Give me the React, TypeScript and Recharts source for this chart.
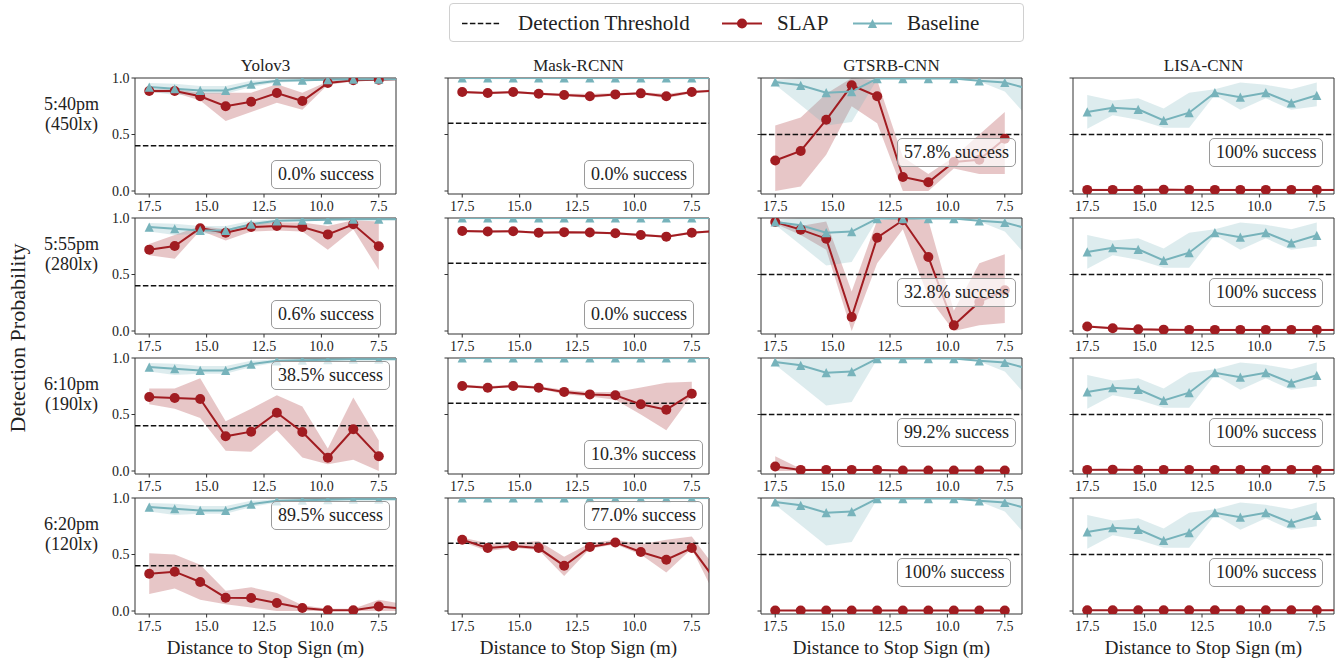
import React from "react";
import {
  Area,
  ComposedChart,
  Line,
  ReferenceArea,
  ReferenceLine,
  XAxis,
  YAxis,
} from "recharts";

// distance (m) of each measurement; the last one sits just past the x-limit
const distances = [17.5, 16.39, 15.28, 14.17, 13.06, 11.94, 10.83, 9.72, 8.61, 7.5, 6.39];
const xTicks = [17.5, 15, 12.5, 10, 7.5];
const yTicks = [0, 0.5, 1];

const models = ["Yolov3", "Mask-RCNN", "GTSRB-CNN", "LISA-CNN"];
const conditions = [
  ["5:40pm", "(450lx)"],
  ["5:55pm", "(280lx)"],
  ["6:10pm", "(190lx)"],
  ["6:20pm", "(120lx)"],
];
const thresholds = [0.4, 0.6, 0.5, 0.5];

// baseline (same for every lighting condition)
const yoloBase = [0.92, 0.905, 0.89, 0.89, 0.945, 0.975, 0.98, 0.985, 0.99, 0.99, 0.99];
const yoloBaseLo = [0.88, 0.85, 0.86, 0.86, 0.92, 0.96, 0.97, 0.98, 0.985, 0.985, 0.985];
const yoloBaseHi = [0.955, 0.95, 0.93, 0.93, 0.975, 0.99, 1.0, 1.0, 1.0, 1.0, 1.0];
const maskBase = [1, 1, 1, 1, 1, 1, 1, 1, 1, 1, 1];
const maskBaseLo = [0.99, 0.99, 0.99, 0.99, 0.99, 0.99, 0.99, 0.99, 0.99, 0.99, 0.99];
const maskBaseHi = [1, 1, 1, 1, 1, 1, 1, 1, 1, 1, 1];
const gtsrbBase = [0.965, 0.935, 0.87, 0.88, 0.995, 0.995, 0.995, 0.995, 0.975, 0.96, 0.9];
const gtsrbBaseLo = [0.94, 0.76, 0.58, 0.61, 0.99, 0.99, 0.99, 0.99, 0.97, 0.88, 0.63];
const gtsrbBaseHi = [0.985, 1.0, 1.0, 1.0, 1.0, 1.0, 1.0, 1.0, 0.99, 1.0, 1.0];
const lisaBase = [0.7, 0.737, 0.723, 0.625, 0.693, 0.87, 0.83, 0.87, 0.78, 0.847, null];
const lisaBaseLo = [0.55, 0.67, 0.63, 0.56, 0.56, 0.85, 0.72, 0.82, 0.72, 0.75, null];
const lisaBaseHi = [0.85, 0.8, 0.82, 0.73, 0.87, 0.9, 0.96, 0.94, 0.9, 0.96, null];

// SLAP, one row per lighting condition
const yoloSlap = [
  [0.885, 0.885, 0.838, 0.75, 0.79, 0.867, 0.796, 0.956, 0.98, 0.985, 0.99],
  [0.72, 0.752, 0.91, 0.87, 0.92, 0.93, 0.92, 0.855, 0.944, 0.75, null],
  [0.655, 0.646, 0.637, 0.307, 0.348, 0.516, 0.345, 0.118, 0.369, 0.13, null],
  [0.33, 0.348, 0.257, 0.118, 0.115, 0.071, 0.027, 0.006, 0.006, 0.04, 0.02],
];
const yoloSlapLo = [
  [0.87, 0.87, 0.8, 0.62, 0.7, 0.78, 0.72, 0.94, 0.97, 0.98, 0.99],
  [0.67, 0.64, 0.89, 0.8, 0.88, 0.89, 0.88, 0.72, 0.9, 0.54, null],
  [0.59, 0.55, 0.47, 0.18, 0.17, 0.36, 0.12, 0.06, 0.1, 0.0, null],
  [0.15, 0.2, 0.1, 0.06, 0.03, 0.0, 0.0, 0.0, 0.0, 0.0, 0.0],
];
const yoloSlapHi = [
  [0.9, 0.9, 0.87, 0.87, 0.87, 0.945, 0.87, 0.97, 0.99, 0.99, 0.99],
  [0.77, 0.85, 0.93, 0.9, 0.95, 0.96, 0.96, 0.93, 0.98, 0.97, null],
  [0.73, 0.73, 0.82, 0.44, 0.55, 0.67, 0.57, 0.2, 0.65, 0.27, null],
  [0.51, 0.5, 0.41, 0.18, 0.21, 0.16, 0.05, 0.02, 0.02, 0.1, 0.06],
];
const maskSlap = [
  [0.876, 0.867, 0.876, 0.861, 0.85, 0.838, 0.855, 0.864, 0.838, 0.876, 0.89],
  [0.885, 0.88, 0.882, 0.87, 0.875, 0.872, 0.865, 0.85, 0.835, 0.87, 0.885],
  [0.752, 0.737, 0.752, 0.737, 0.7, 0.678, 0.67, 0.59, 0.543, 0.684, null],
  [0.631, 0.557, 0.575, 0.557, 0.401, 0.566, 0.607, 0.522, 0.454, 0.557, 0.25],
];
const maskSlapLo = [
  [0.866, 0.857, 0.866, 0.851, 0.84, 0.82, 0.845, 0.854, 0.82, 0.866, 0.88],
  [0.875, 0.87, 0.872, 0.86, 0.865, 0.862, 0.855, 0.84, 0.825, 0.86, 0.875],
  [0.74, 0.73, 0.74, 0.73, 0.68, 0.66, 0.63, 0.5, 0.36, 0.67, null],
  [0.61, 0.53, 0.56, 0.54, 0.31, 0.55, 0.59, 0.5, 0.34, 0.55, 0.1],
];
const maskSlapHi = [
  [0.886, 0.877, 0.886, 0.871, 0.86, 0.86, 0.865, 0.874, 0.86, 0.886, 0.9],
  [0.895, 0.89, 0.892, 0.88, 0.885, 0.882, 0.875, 0.86, 0.845, 0.88, 0.895],
  [0.765, 0.75, 0.765, 0.75, 0.72, 0.7, 0.7, 0.74, 0.78, 0.79, null],
  [0.65, 0.6, 0.6, 0.62, 0.48, 0.6, 0.63, 0.59, 0.63, 0.66, 0.36],
];
const gtsrbSlap = [
  [0.27, 0.354, 0.63, 0.935, 0.838, 0.124, 0.077, 0.257, 0.277, 0.463, null],
  [0.965, 0.897, 0.817, 0.124, 0.826, 0.98, 0.655, 0.05, 0.257, 0.36, null],
  [0.04, 0.01, 0.01, 0.01, 0.01, 0.005, 0.005, 0.005, 0.005, 0.005, null],
  [0.005, 0.005, 0.005, 0.005, 0.005, 0.005, 0.005, 0.005, 0.005, 0.005, null],
];
const gtsrbSlapLo = [
  [0.0, 0.04, 0.32, 0.75, 0.6, 0.0, 0.0, 0.2, 0.15, 0.15, null],
  [0.95, 0.85, 0.72, 0.0, 0.6, 0.9, 0.3, 0.0, 0.05, 0.07, null],
  [0.0, 0.0, 0.0, 0.0, 0.0, 0.0, 0.0, 0.0, 0.0, 0.0, null],
  [0.0, 0.0, 0.0, 0.0, 0.0, 0.0, 0.0, 0.0, 0.0, 0.0, null],
];
const gtsrbSlapHi = [
  [0.58, 0.65, 0.86, 1.0, 0.98, 0.3, 0.15, 0.3, 0.5, 0.7, null],
  [0.98, 0.93, 0.97, 0.35, 0.98, 1.0, 0.98, 0.18, 0.6, 0.68, null],
  [0.13, 0.02, 0.02, 0.02, 0.02, 0.01, 0.01, 0.01, 0.01, 0.01, null],
  [0.01, 0.01, 0.01, 0.01, 0.01, 0.01, 0.01, 0.01, 0.01, 0.01, null],
];
const lisaSlap = [
  [0.01, 0.01, 0.01, 0.012, 0.01, 0.01, 0.01, 0.01, 0.01, 0.01, 0.01],
  [0.04, 0.025, 0.015, 0.012, 0.01, 0.01, 0.01, 0.01, 0.01, 0.01, 0.01],
  [0.01, 0.012, 0.01, 0.01, 0.01, 0.01, 0.01, 0.01, 0.01, 0.01, 0.01],
  [0.006, 0.006, 0.006, 0.006, 0.006, 0.006, 0.006, 0.006, 0.006, 0.006, 0.006],
];
const lisaSlapLo = [
  [0.0, 0.0, 0.0, 0.0, 0.0, 0.0, 0.0, 0.0, 0.0, 0.0, 0.0],
  [0.03, 0.015, 0.005, 0.0, 0.0, 0.0, 0.0, 0.0, 0.0, 0.0, 0.0],
  [0.0, 0.0, 0.0, 0.0, 0.0, 0.0, 0.0, 0.0, 0.0, 0.0, 0.0],
  [0.0, 0.0, 0.0, 0.0, 0.0, 0.0, 0.0, 0.0, 0.0, 0.0, 0.0],
];
const lisaSlapHi = [
  [0.02, 0.02, 0.02, 0.025, 0.02, 0.02, 0.02, 0.02, 0.02, 0.02, 0.02],
  [0.05, 0.035, 0.025, 0.02, 0.02, 0.02, 0.02, 0.02, 0.02, 0.02, 0.02],
  [0.02, 0.022, 0.02, 0.02, 0.02, 0.02, 0.02, 0.02, 0.02, 0.02, 0.02],
  [0.012, 0.012, 0.012, 0.012, 0.012, 0.012, 0.012, 0.012, 0.012, 0.012, 0.012],
];

// annotation text and where its box sits ("low" | "mid" | "top")
const successText = [
  ["0.0% success", "0.6% success", "38.5% success", "89.5% success"],
  ["0.0% success", "0.0% success", "10.3% success", "77.0% success"],
  ["57.8% success", "32.8% success", "99.2% success", "100% success"],
  ["100% success", "100% success", "100% success", "100% success"],
];
const successPlace = [
  ["low", "low", "top", "top"],
  ["low", "low", "low", "top"],
  ["mid", "mid", "mid", "mid"],
  ["mid", "mid", "mid", "mid"],
];

const SERIES = [
  { base: yoloBase, baseLo: yoloBaseLo, baseHi: yoloBaseHi, slap: yoloSlap, lo: yoloSlapLo, hi: yoloSlapHi },
  { base: maskBase, baseLo: maskBaseLo, baseHi: maskBaseHi, slap: maskSlap, lo: maskSlapLo, hi: maskSlapHi },
  { base: gtsrbBase, baseLo: gtsrbBaseLo, baseHi: gtsrbBaseHi, slap: gtsrbSlap, lo: gtsrbSlapLo, hi: gtsrbSlapHi },
  { base: lisaBase, baseLo: lisaBaseLo, baseHi: lisaBaseHi, slap: lisaSlap, lo: lisaSlapLo, hi: lisaSlapHi },
];

const SERIF = "'Liberation Serif', 'DejaVu Serif', serif";
const RED = "#a11c21";
const TEAL = "#77b3bb";
const X_MIN = 6.75;
const X_MAX = 18.12;
const Y_MIN = -0.0265;

const PLOT_LEFT = [135, 448, 761, 1073];
const PLOT_TOP = [78, 218, 358, 498];
const PLOT_W = 261;
const PLOT_H = 116;
const AXIS_W = 40;
const M_TOP = 10;
const M_RIGHT = 4;
const X_AXIS_H = 28;
const BOX_OFFSET: Record<string, number> = { low: 82, mid: 60, top: 3 };

function buildRows(c: number, r: number) {
  const s = SERIES[c];
  return distances.map((d, i) => ({
    d,
    slap: s.slap[r][i],
    slapBand: s.slap[r][i] == null ? null : [s.lo[r][i], s.hi[r][i]],
    base: s.base[i],
    baseBand: s.base[i] == null ? null : [s.baseLo[i], s.baseHi[i]],
  }));
}

const circleDot = (props: any) => {
  const { cx, cy, payload, index } = props;
  if (cy == null || payload.d < X_MIN) return <g key={`c${index}`} />;
  return <circle key={`c${index}`} cx={cx} cy={cy} r={5} fill={RED} />;
};

const triangleDot = (props: any) => {
  const { cx, cy, payload, index } = props;
  if (cy == null || payload.d < X_MIN) return <g key={`t${index}`} />;
  const s = 4.6;
  return (
    <path
      key={`t${index}`}
      d={`M${cx},${cy - s}L${cx + s},${cy + s}L${cx - s},${cy + s}Z`}
      fill={TEAL}
    />
  );
};

const tickStyle = { fontSize: 14, fill: "#222", fontFamily: SERIF };

function Panel({ c, r }: { c: number; r: number }) {
  const rows = buildRows(c, r);
  return (
    <div
      style={{
        position: "absolute",
        left: PLOT_LEFT[c] - AXIS_W,
        top: PLOT_TOP[r] - M_TOP,
      }}
    >
      <ComposedChart
        width={AXIS_W + PLOT_W + M_RIGHT}
        height={M_TOP + PLOT_H + X_AXIS_H}
        data={rows}
        margin={{ top: M_TOP, right: M_RIGHT, left: 0, bottom: 0 }}
        style={{ fontFamily: SERIF }}
      >
        <XAxis
          dataKey="d"
          type="number"
          domain={[X_MIN, X_MAX]}
          reversed
          allowDataOverflow
          ticks={xTicks}
          tickFormatter={(v: number) => v.toFixed(1)}
          height={X_AXIS_H}
          axisLine={false}
          tickSize={3.5}
          tickMargin={4}
          tickLine={{ stroke: "#333" }}
          tick={tickStyle}
          interval={0}
        />
        <YAxis
          type="number"
          domain={[Y_MIN, 1]}
          allowDataOverflow
          ticks={yTicks}
          tickFormatter={(v: number) => (c === 0 ? v.toFixed(1) : "")}
          width={AXIS_W}
          axisLine={false}
          tickSize={3.5}
          tickMargin={2}
          tickLine={{ stroke: "#333" }}
          tick={tickStyle}
          interval={0}
        />
        <ReferenceLine
          y={thresholds[c]}
          stroke="#111"
          strokeWidth={1.5}
          strokeDasharray="5.5 2.4"
        />
        <Area
          dataKey="slapBand"
          stroke="none"
          fill={RED}
          fillOpacity={0.25}
          isAnimationActive={false}
          activeDot={false}
          dot={false}
        />
        <Line
          dataKey="slap"
          stroke={RED}
          strokeWidth={2}
          dot={circleDot}
          activeDot={false}
          isAnimationActive={false}
        />
        <Area
          dataKey="baseBand"
          stroke="none"
          fill={TEAL}
          fillOpacity={0.25}
          isAnimationActive={false}
          activeDot={false}
          dot={false}
        />
        <Line
          dataKey="base"
          stroke={TEAL}
          strokeWidth={2}
          dot={triangleDot}
          activeDot={false}
          isAnimationActive={false}
        />
        <ReferenceArea
          x1={X_MIN}
          x2={X_MAX}
          y1={Y_MIN}
          y2={1}
          fill="none"
          stroke="#333"
          strokeWidth={1}
        />
      </ComposedChart>
    </div>
  );
}

function Legend() {
  return (
    <div
      style={{
        position: "absolute",
        left: 449,
        top: 3,
        width: 575,
        height: 39,
        boxSizing: "border-box",
        border: "1px solid #d0d0d0",
        borderRadius: 4,
        fontSize: 21,
      }}
    >
      <svg width={575} height={39} style={{ position: "absolute", left: 0, top: 0 }}>
        <line x1={12} x2={51} y1={19.5} y2={19.5} stroke="#111" strokeWidth={1.5} strokeDasharray="5.5 2.4" />
        <line x1={272} x2={312} y1={19.5} y2={19.5} stroke={RED} strokeWidth={2} />
        <circle cx={292} cy={19.5} r={5} fill={RED} />
        <line x1={403} x2={442} y1={19.5} y2={19.5} stroke={TEAL} strokeWidth={2} />
        <path d="M422.5,14.9L427.1,24.1L417.9,24.1Z" fill={TEAL} />
      </svg>
      <span style={{ position: "absolute", left: 68, top: 7, lineHeight: "24px" }}>Detection Threshold</span>
      <span style={{ position: "absolute", left: 327, top: 7, lineHeight: "24px" }}>SLAP</span>
      <span style={{ position: "absolute", left: 457, top: 7, lineHeight: "24px" }}>Baseline</span>
    </div>
  );
}

export default function App() {
  return (
    <div
      style={{
        position: "absolute",
        left: 0,
        top: 0,
        width: 1343,
        height: 660,
        background: "#fff",
        fontFamily: SERIF,
        color: "#222",
        overflow: "hidden",
      }}
    >
      <Legend />
      {models.map((m, c) => (
        <div
          key={m}
          style={{
            position: "absolute",
            left: PLOT_LEFT[c],
            width: PLOT_W,
            top: 56,
            textAlign: "center",
            fontSize: 17,
            lineHeight: "20px",
          }}
        >
          {m}
        </div>
      ))}
      {conditions.map((lines, r) => (
        <div
          key={lines[0]}
          style={{
            position: "absolute",
            left: 20,
            width: 103,
            top: PLOT_TOP[r] + 17,
            textAlign: "center",
            fontSize: 18,
            lineHeight: "19.5px",
          }}
        >
          <div>{lines[0]}</div>
          <div>{lines[1]}</div>
        </div>
      ))}
      <div
        style={{
          position: "absolute",
          left: 18 - 150,
          top: 338 - 12,
          width: 300,
          height: 24,
          lineHeight: "24px",
          textAlign: "center",
          fontSize: 22,
          transform: "rotate(-90deg)",
        }}
      >
        Detection Probability
      </div>
      {models.map((m, c) =>
        conditions.map((_, r) => <Panel key={`${m}-${r}`} c={c} r={r} />)
      )}
      {models.map((m, c) =>
        conditions.map((_, r) => (
          <div
            key={`box-${m}-${r}`}
            style={{
              position: "absolute",
              left: PLOT_LEFT[c] + 136,
              top: PLOT_TOP[r] + BOX_OFFSET[successPlace[c][r]],
              height: 29,
              boxSizing: "border-box",
              padding: "0 6px",
              border: "1px solid #9a9a9a",
              borderRadius: 5,
              background: "rgba(255,255,255,0.7)",
              fontSize: 18,
              lineHeight: "27px",
              whiteSpace: "nowrap",
            }}
          >
            {successText[c][r]}
          </div>
        ))
      )}
      {models.map((m, c) => (
        <div
          key={`xl-${m}`}
          style={{
            position: "absolute",
            left: PLOT_LEFT[c] - 20,
            width: PLOT_W + 40,
            top: 637,
            textAlign: "center",
            fontSize: 19,
            lineHeight: "22px",
          }}
        >
          Distance to Stop Sign (m)
        </div>
      ))}
    </div>
  );
}
